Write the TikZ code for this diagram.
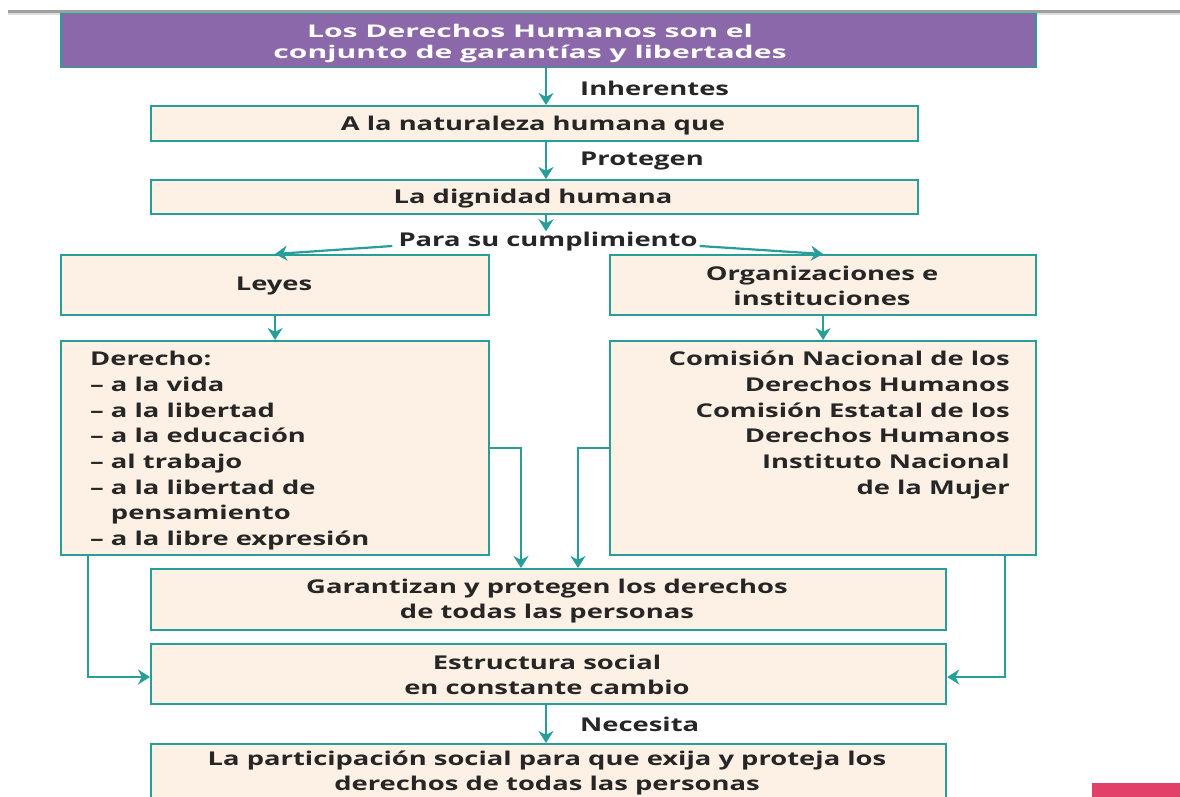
\documentclass[tikz,border=0pt]{standalone}
\usepackage{fontspec}
\setmainfont{Open Sans}[FakeStretch=1.44]
\newfontfamily\titlefont{Open Sans}[FakeStretch=1.72]
\usetikzlibrary{arrows.meta}
\definecolor{tealc}{RGB}{40,158,152}
\definecolor{purp}{RGB}{138,104,170}
\definecolor{cream}{RGB}{253,240,228}
\definecolor{pinkc}{RGB}{226,64,104}
\tikzset{
  box/.style={draw=tealc, line width=2.2pt, fill=cream, rectangle, inner sep=0pt, anchor=north west},
  purpbox/.style={draw=tealc, line width=1.5pt, fill=purp, rectangle, inner sep=0pt, anchor=north west},
  txt/.style={font=\fontsize{19}{25.7}\selectfont\bfseries, text=black!85, inner sep=0pt, align=center},
  arr/.style={draw=tealc, line width=2.2pt, -{Stealth[length=12pt,width=15pt]}},
  conn/.style={draw=tealc, line width=2.2pt, -{Stealth[length=12pt,width=15pt]}}
}
\begin{document}
\begin{tikzpicture}[x=1pt,y=-1pt]
\useasboundingbox (0,0) rectangle (1180,797);
\clip (0,0) rectangle (1180,797);
\fill[white] (0,0) rectangle (1180,797);
% top rule
\fill[gray!75] (8,10) rectangle (1180,13);
\fill[gray!25] (8,13) rectangle (1180,15);
% nodes
\node[purpbox, minimum width=975pt, minimum height=54pt] (title) at (60,13) {};
\node[txt, text=white, font=\titlefont\fontsize{17.5}{21}\selectfont\bfseries] (titletxt) at (530,43) {Los Derechos Humanos son el\\conjunto de garantías y libertades};
\node[box, minimum width=767pt, minimum height=35pt] (b2) at (150,105) {};
\node[txt] (b2t) at (533,126) {A la naturaleza humana que};
\node[box, minimum width=767pt, minimum height=34pt] (b3) at (150,179) {};
\node[txt] (b3t) at (533,199) {La dignidad humana};
\node[txt, anchor=west] (inh) at (580,88) {Inherentes};
\node[txt, anchor=west] (prot) at (580,161) {Protegen};
\node[txt] (para) at (548,242) {Para su cumplimiento};
\node[box, minimum width=428pt, minimum height=60pt] (leyes) at (60,254) {};
\node[txt] (leyest) at (274,286) {Leyes};
\node[box, minimum width=426pt, minimum height=60pt] (org) at (609,254) {};
\node[txt] (orgt) at (822,286) {Organizaciones e\\instituciones};
\node[box, minimum width=428pt, minimum height=214pt] (der) at (60,340) {};
\node[txt, anchor=north west, align=left] (dert) at (90,351) {Derecho:\\– a la vida\\– a la libertad\\– a la educación\\– al trabajo\\– a la libertad de\\\hphantom{– }pensamiento\\– a la libre expresión};
\node[box, minimum width=426pt, minimum height=214pt] (com) at (609,340) {};
\node[txt, anchor=north east, align=right] (comt) at (1010,351) {Comisión Nacional de los\\Derechos Humanos\\Comisión Estatal de los\\Derechos Humanos\\Instituto Nacional\\de la Mujer};
\node[box, minimum width=795pt, minimum height=61pt] (gar) at (150,568) {};
\node[txt] (gart) at (547,601) {Garantizan y protegen los derechos\\de todas las personas};
\node[box, minimum width=795pt, minimum height=60pt] (est) at (150,643) {};
\node[txt] (estt) at (547,675) {Estructura social\\en constante cambio};
\node[txt, anchor=west] (nec) at (580,724) {Necesita};
\node[box, minimum width=795pt, minimum height=80pt] (fin) at (150,743) {};
\node[txt, font=\fontsize{19}{24.5}\selectfont\bfseries] (fint) at (547,773) {La participación social para que exija y proteja los\\derechos de todas las personas};
\fill[pinkc] (1092,783) rectangle (1180,800);
% coordinates
\coordinate (ax) at (546,0);
\coordinate (lx) at (521,0);
\coordinate (rx) at (578,0);
\coordinate (llx) at (88,0);
\coordinate (rrx) at (1005,0);
\coordinate (my) at (0,448);
\coordinate (ly) at (0,677);
% connectors
\draw[arr] (title.south -| ax) -- (b2.north -| ax);
\draw[arr] (b2.south -| ax) -- (b3.north -| ax);
\draw[arr] (b3.south -| ax) -- ([yshift=1pt]para.north -| ax);
\draw[arr] ([xshift=-6pt,yshift=-4pt]para.west) -- (leyes.north);
\draw[arr] ([xshift=2pt,yshift=-4pt]para.east) -- (org.north);
\draw[arr] (leyes.south) -- (der.north);
\draw[arr] (org.south) -- (com.north);
\draw[conn] (der.east |- my) -| (gar.north -| lx);
\draw[conn] (com.west |- my) -| (gar.north -| rx);
\draw[conn] (der.south -| llx) |- (est.west |- ly);
\draw[conn] (com.south -| rrx) |- (est.east |- ly);
\draw[arr] (est.south -| ax) -- (fin.north -| ax);
\end{tikzpicture}
\end{document}
